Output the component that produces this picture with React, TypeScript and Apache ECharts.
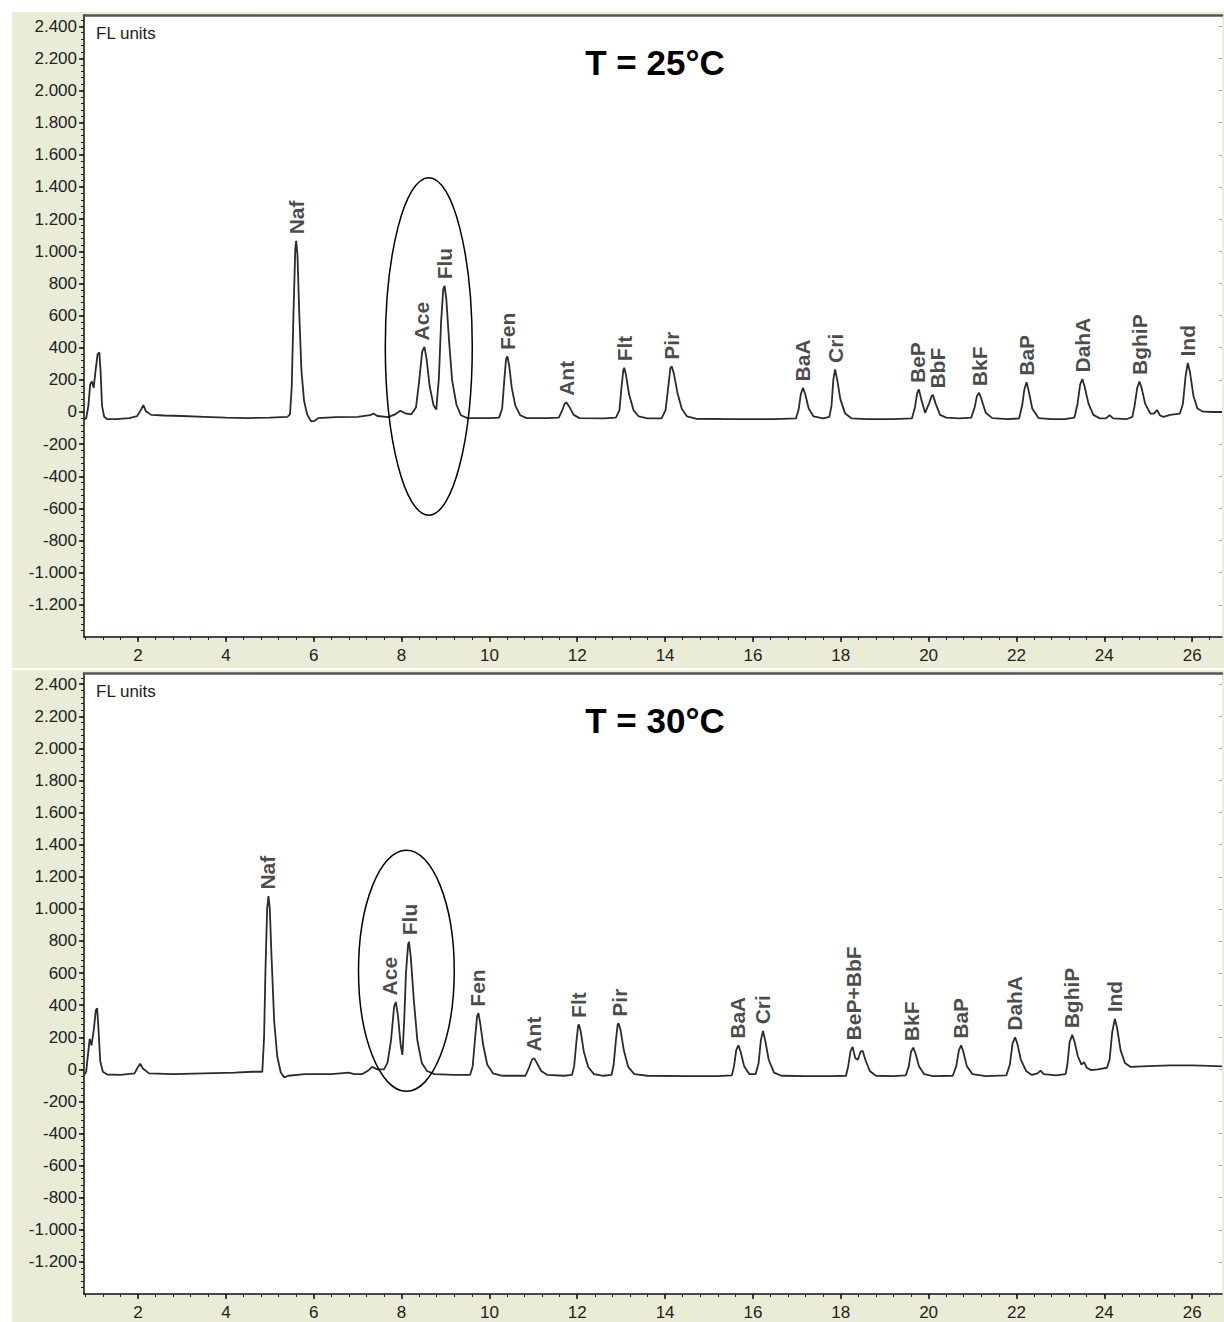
import React, { useEffect, useRef } from "react";
import * as echarts from "echarts";

// ---------- data ----------
const xTicks = [2, 4, 6, 8, 10, 12, 14, 16, 18, 20, 22, 24, 26];
const yTicks = [-1200, -1000, -800, -600, -400, -200, 0, 200, 400, 600, 800, 1000, 1200, 1400, 1600, 1800, 2000, 2200, 2400];
const titles = ["T = 25°C", "T = 30°C"];
const unitLabel = "FL units";

// chromatogram at 25 °C: [retention time (min), signal (FL units)]
const trace25: [number, number][] = [
  [0.77, -45], [0.82, -40], [0.87, 40], [0.91, 170], [0.95, 190], [0.99, 150], [1.03, 250], [1.08, 360], [1.12, 370], [1.15, 240], [1.18, 40], [1.23, -30], [1.3, -45], [1.5, -45], [1.8, -38], [1.98, -25], [2.06, 10], [2.12, 42], [2.18, 5], [2.3, -18], [2.6, -22], [3.0, -25], [3.5, -30], [4.0, -35], [4.5, -38], [5.0, -35], [5.4, -30],
  [5.46, -15], [5.5, 160], [5.54, 620], [5.58, 1010], [5.6, 1065], [5.63, 980], [5.67, 620], [5.72, 260], [5.78, 70], [5.85, -15], [5.94, -58], [6.02, -55], [6.1, -38], [6.5, -32], [7.0, -30], [7.28, -20], [7.36, -10], [7.45, -25], [7.7, -32], [7.85, -15], [7.97, 8], [8.08, -8], [8.22, -15],
  [8.33, 30], [8.4, 190], [8.47, 375], [8.52, 405], [8.57, 330], [8.64, 160], [8.73, 40], [8.79, 15],
  [8.85, 210], [8.9, 560], [8.95, 765], [8.98, 785], [9.02, 700], [9.08, 450], [9.15, 200], [9.25, 45], [9.35, -20], [9.5, -38], [10.0, -38], [10.22, -35],
  [10.29, 20], [10.34, 200], [10.38, 330], [10.41, 345], [10.45, 290], [10.51, 150], [10.59, 40], [10.7, -20], [10.85, -38], [11.3, -38], [11.58, -35],
  [11.65, 5], [11.71, 50], [11.75, 60], [11.82, 32], [11.92, -18], [12.05, -38], [12.6, -40], [12.88, -35],
  [12.96, 10], [13.01, 160], [13.05, 262], [13.07, 275], [13.11, 230], [13.18, 110], [13.28, 12], [13.4, -28], [13.6, -40], [13.92, -40],
  [14.01, 10], [14.07, 150], [14.12, 272], [14.15, 285], [14.2, 240], [14.28, 120], [14.38, 20], [14.5, -28], [14.7, -42], [15.5, -45], [16.5, -45], [16.98, -40],
  [17.04, 15], [17.09, 110], [17.14, 150], [17.19, 112], [17.27, 22], [17.38, -28], [17.6, -40], [17.74, -30],
  [17.79, 40], [17.83, 200], [17.87, 265], [17.92, 200], [17.99, 80], [18.1, -10], [18.25, -40], [18.6, -45], [19.2, -45], [19.62, -40],
  [19.69, 30], [19.74, 118], [19.78, 140], [19.84, 72], [19.92, -5],
  [20.02, 60], [20.07, 100], [20.1, 105], [20.16, 52], [20.26, -18], [20.4, -35], [20.7, -40], [20.97, -35],
  [21.05, 30], [21.1, 100], [21.15, 120], [21.2, 82], [21.3, -5], [21.45, -38], [21.8, -45], [22.06, -40],
  [22.13, 40], [22.18, 140], [22.23, 185], [22.28, 130], [22.36, 22], [22.5, -38], [22.8, -45], [23.1, -45], [23.32, -35],
  [23.39, 50], [23.45, 170], [23.5, 205], [23.55, 160], [23.64, 52], [23.75, -18], [23.9, -40], [24.04, -40], [24.12, -20], [24.2, -40], [24.5, -45], [24.64, -30],
  [24.69, 40], [24.75, 150], [24.8, 190], [24.85, 150], [24.93, 52], [25.05, -10], [25.13, -10], [25.2, 12], [25.27, -22], [25.35, -30], [25.5, -18], [25.72, -10],
  [25.79, 50], [25.85, 220], [25.9, 305], [25.95, 250], [26.03, 100], [26.12, 22], [26.25, 2], [26.5, 0], [26.68, 0],
];

// chromatogram at 30 °C
const trace30: [number, number][] = [
  [0.77, -35], [0.82, -15], [0.86, 90], [0.9, 190], [0.94, 150], [0.99, 240], [1.04, 370], [1.07, 380], [1.1, 250], [1.14, 50], [1.2, -15], [1.3, -32], [1.6, -35], [1.92, -25], [2.0, 15], [2.05, 35], [2.11, 5], [2.25, -25], [2.8, -30], [3.5, -25], [4.2, -20], [4.6, -15], [4.83, -15],
  [4.87, 200], [4.9, 600], [4.94, 1000], [4.97, 1080], [5.0, 1000], [5.04, 700], [5.1, 300], [5.17, 80], [5.25, -20], [5.33, -50], [5.42, -40], [5.8, -30], [6.4, -30], [6.8, -20], [6.92, -30], [7.1, -30], [7.25, -5], [7.33, 15], [7.45, 0], [7.6, 0],
  [7.68, 40], [7.76, 180], [7.83, 390], [7.87, 420], [7.92, 330], [7.98, 150], [8.02, 90],
  [8.06, 300], [8.1, 600], [8.15, 780], [8.17, 795], [8.21, 700], [8.28, 430], [8.36, 180], [8.46, 40], [8.58, -10], [8.75, -30], [9.2, -35], [9.56, -35],
  [9.62, 20], [9.67, 180], [9.72, 330], [9.75, 350], [9.79, 290], [9.86, 150], [9.95, 30], [10.08, -25], [10.3, -40], [10.82, -40],
  [10.9, 10], [10.97, 60], [11.02, 70], [11.08, 40], [11.18, -10], [11.32, -35], [11.7, -40], [11.88, -35],
  [11.93, 20], [11.98, 170], [12.02, 270], [12.04, 280], [12.08, 235], [12.15, 110], [12.25, 15], [12.38, -30], [12.6, -40], [12.78, -35],
  [12.83, 30], [12.88, 180], [12.92, 278], [12.94, 288], [12.99, 240], [13.06, 120], [13.16, 15], [13.3, -30], [13.6, -40], [14.5, -42], [15.2, -42], [15.52, -38],
  [15.57, 20], [15.62, 120], [15.67, 150], [15.72, 110], [15.8, 20], [15.92, -30], [16.06, -30],
  [16.13, 40], [16.18, 180], [16.23, 240], [16.28, 180], [16.36, 60], [16.48, -20], [16.65, -40], [17.2, -42], [17.8, -42], [18.12, -40],
  [18.17, 20], [18.22, 110], [18.27, 140], [18.33, 70], [18.39, 60], [18.45, 110], [18.5, 115], [18.56, 60], [18.66, -10], [18.8, -40], [19.2, -42], [19.48, -38],
  [19.55, 20], [19.6, 110], [19.65, 135], [19.7, 100], [19.78, 20], [19.9, -30], [20.1, -42], [20.55, -40],
  [20.63, 20], [20.69, 120], [20.74, 150], [20.79, 110], [20.87, 20], [21.0, -30], [21.3, -42], [21.77, -38],
  [21.85, 30], [21.91, 160], [21.97, 200], [22.02, 160], [22.1, 60], [22.22, -10], [22.35, -35], [22.48, -25], [22.55, -8], [22.62, -30], [22.9, -38], [23.12, -30],
  [23.16, 30], [23.21, 170], [23.27, 215], [23.32, 175], [23.4, 80], [23.48, 30], [23.54, 45], [23.6, 10], [23.7, -5], [23.85, 0], [24.06, 10],
  [24.12, 60], [24.18, 230], [24.24, 315], [24.29, 260], [24.37, 120], [24.47, 40], [24.6, 15], [25.0, 20], [25.5, 25], [26.0, 25], [26.4, 22], [26.68, 18],
];

const peakNames25 = ["Naf", "Ace", "Flu", "Fen", "Ant", "Flt", "Pir", "BaA", "Cri", "BeP", "BbF", "BkF", "BaP", "DahA", "BghiP", "Ind"];
const labelTimes25 = [5.6, 8.46, 8.98, 10.41, 11.75, 13.07, 14.15, 17.14, 17.87, 19.74, 20.2, 21.15, 22.23, 23.5, 24.8, 25.9];
const labelBases25 = [1065, 405, 785, 345, 60, 275, 285, 150, 265, 140, 105, 120, 185, 205, 190, 305];

const peakNames30 = ["Naf", "Ace", "Flu", "Fen", "Ant", "Flt", "Pir", "BaA", "Cri", "BeP+BbF", "BkF", "BaP", "DahA", "BghiP", "Ind"];
const labelTimes30 = [4.95, 7.72, 8.18, 9.74, 11.0, 12.03, 12.96, 15.65, 16.22, 18.29, 19.62, 20.72, 21.95, 23.25, 24.23];
const labelBases30 = [1080, 420, 795, 350, 70, 280, 288, 150, 240, 140, 135, 150, 200, 215, 315];

// ellipse annotations: [centre time, centre signal, half width (min), half height (FL units)]
const ellipse25 = [8.62, 408, 0.99, 1050];
const ellipse30 = [8.11, 614, 1.09, 751];

// ---------- layout / style ----------
const X_MIN = 0.77;
const X_MAX = 26.68;
const Y_MIN = -1400;
const Y_MAX = 2470;
const PLOT_LEFT = 84;
const PLOT_W = 1138;
const PANELS = [
  { top: 15, height: 622, bgTop: 12, bgH: 656 },
  { top: 673, height: 621, bgTop: 670, bgH: 652 },
];
const BEIGE = "#ebecd8";
const FONT = "'Liberation Sans', Arial, Helvetica, sans-serif";
const INK = "#222";

const fmt = (v: number) => {
  const a = Math.abs(v);
  const s = a >= 1000 ? Math.floor(a / 1000) + "." + String(a % 1000).padStart(3, "0") : String(a);
  return (v < 0 ? "-" : "") + s;
};

const xMinor: number[] = [];
for (let i = 2; i * 0.4 <= X_MAX; i++) xMinor.push(+(i * 0.4).toFixed(2));
const yMinor: number[] = [];
for (let v = -1360; v <= Y_MAX; v += 40) yMinor.push(v);

function buildOption() {
  const grid: any[] = [];
  const xAxis: any[] = [];
  const yAxis: any[] = [];
  const series: any[] = [];
  const graphic: any[] = [];
  const traces = [trace25, trace30];
  const names = [peakNames25, peakNames30];
  const lt = [labelTimes25, labelTimes30];
  const lb = [labelBases25, labelBases30];
  const ells = [ellipse25, ellipse30];

  PANELS.forEach((p, i) => {
    grid.push({ left: PLOT_LEFT, top: p.top, width: PLOT_W, height: p.height, containLabel: false });
    const base = { type: "value", gridIndex: i, min: X_MIN, max: X_MAX, splitLine: { show: false } };
    xAxis.push({
      ...base,
      position: "bottom",
      axisLine: { show: true, onZero: false, lineStyle: { color: "#111", width: 1.5 } },
      axisTick: { show: true, customValues: xTicks, length: 5, lineStyle: { color: "#111", width: 1.5 } },
      axisLabel: { show: true, customValues: xTicks, margin: 10, fontSize: 17, color: INK, fontFamily: FONT },
    });
    xAxis.push({
      ...base,
      position: "bottom",
      axisLine: { show: false, onZero: false },
      axisTick: { show: true, customValues: xMinor, length: 3, lineStyle: { color: "#222", width: 1 } },
      axisLabel: { show: false },
    });
    xAxis.push({
      ...base,
      position: "top",
      axisLine: { show: true, onZero: false, lineStyle: { color: "#555", width: 2.5 } },
      axisTick: { show: false },
      axisLabel: { show: false },
    });
    const ybase = { type: "value", gridIndex: i, min: Y_MIN, max: Y_MAX, splitLine: { show: false } };
    yAxis.push({
      ...ybase,
      position: "left",
      axisLine: { show: true, onZero: false, lineStyle: { color: "#111", width: 1.5 } },
      axisTick: { show: true, customValues: yTicks, length: 5, lineStyle: { color: "#111", width: 1.5 } },
      axisLabel: { show: true, customValues: yTicks, margin: 7, fontSize: 17, color: INK, fontFamily: FONT, formatter: (v: number) => fmt(v) },
    });
    yAxis.push({
      ...ybase,
      position: "left",
      axisLine: { show: false, onZero: false },
      axisTick: { show: true, customValues: yMinor, length: 3, lineStyle: { color: "#222", width: 1 } },
      axisLabel: { show: false },
    });
    yAxis.push({
      ...ybase,
      position: "right",
      axisLine: { show: false, onZero: false },
      axisTick: { show: true, inside: true, customValues: yTicks, length: 3, lineStyle: { color: "#aaa", width: 1 } },
      axisLabel: { show: false },
    });

    const xi = i * 3;
    const yi = i * 3;
    series.push({
      type: "line",
      xAxisIndex: xi,
      yAxisIndex: yi,
      data: traces[i],
      showSymbol: false,
      symbol: "none",
      lineStyle: { color: "#2b2b2b", width: 1.8 },
      z: 3,
    });
    series.push({
      type: "scatter",
      xAxisIndex: xi,
      yAxisIndex: yi,
      symbolSize: 1,
      itemStyle: { color: "rgba(0,0,0,0)" },
      data: names[i].map((n, k) => ({ name: n, value: [lt[i][k], lb[i][k]] })),
      label: {
        show: true,
        position: "top",
        distance: 6,
        rotate: 90,
        align: "left",
        verticalAlign: "middle",
        formatter: (pp: any) => pp.name,
        fontSize: 21,
        fontWeight: "bold",
        color: "#1a1a1a",
        fontFamily: FONT,
      },
      z: 4,
    });
    series.push({
      type: "custom",
      xAxisIndex: xi,
      yAxisIndex: yi,
      data: [ells[i]],
      encode: { x: 0, y: 1 },
      clip: false,
      silent: true,
      renderItem: (_params: any, api: any) => {
        const c = api.coord([api.value(0), api.value(1)]);
        const s = api.size([api.value(2), api.value(3)]);
        return {
          type: "ellipse",
          shape: { cx: c[0], cy: c[1], rx: s[0], ry: s[1] },
          style: { fill: "none", stroke: "#000", lineWidth: 1.5 },
        };
      },
      z: 5,
    });

    graphic.push({ type: "rect", z: -10, silent: true, shape: { x: 12, y: p.bgTop, width: 1224 - 12, height: p.bgH }, style: { fill: BEIGE } });
    graphic.push({ type: "rect", z: -9, silent: true, shape: { x: PLOT_LEFT, y: p.top, width: PLOT_W, height: p.height }, style: { fill: "#fff" } });
    graphic.push({
      type: "text",
      z: 10,
      x: PLOT_LEFT + PLOT_W / 2 + 2,
      y: p.top + 47,
      style: { text: titles[i], font: `bold 35px ${FONT}`, fill: "#000", textAlign: "center", textVerticalAlign: "middle", align: "center", verticalAlign: "middle" },
    });
    graphic.push({
      type: "text",
      z: 10,
      x: PLOT_LEFT + 12,
      y: p.top + 18,
      style: { text: unitLabel, font: `17px ${FONT}`, fill: INK, textAlign: "left", textVerticalAlign: "middle", align: "left", verticalAlign: "middle" },
    });
  });

  return { animation: false, backgroundColor: "#fff", grid, xAxis, yAxis, series, graphic };
}

export default function App() {
  const ref = useRef<HTMLDivElement>(null);
  useEffect(() => {
    if (!ref.current) return;
    const chart = echarts.init(ref.current, null, { renderer: "svg" });
    chart.setOption(buildOption() as any);
    return () => chart.dispose();
  }, []);
  return <div ref={ref} style={{ position: "fixed", left: 0, top: 0, width: 1224, height: 1322 }} />;
}
